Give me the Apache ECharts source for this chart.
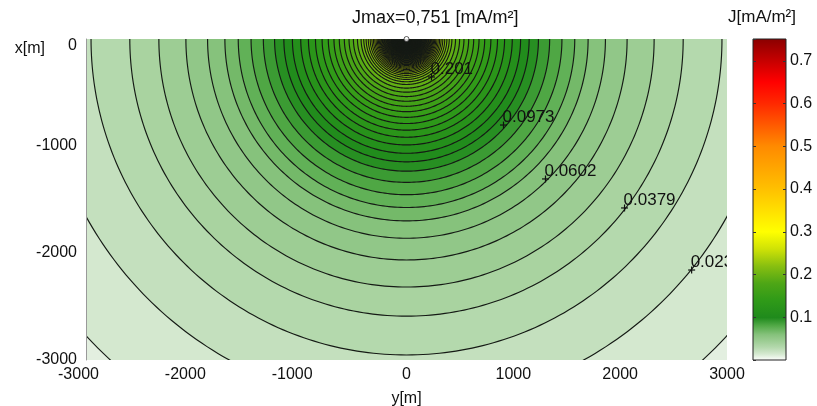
<!DOCTYPE html>
<html><head><meta charset="utf-8">
<script src="https://cdn.jsdelivr.net/npm/echarts@6/dist/echarts.min.js"></script>
<style>html,body{margin:0;padding:0;background:#fff}#c{width:817px;height:406px}</style>
</head><body><div id="c"></div>
<script>
// contour levels J [mA/m^2]
const levels = [0.0156,0.0230,0.0304,0.0378,0.0453,0.0527,0.0601,0.0675,0.0749,0.0824,
0.0898,0.0972,0.1046,0.1121,0.1195,0.1269,0.1343,0.1417,0.1491,0.1566,
0.1640,0.1714,0.1788,0.1862,0.1937,0.2011,0.2085,0.2159,0.2233,0.2308,
0.2382,0.2456,0.2530,0.2604,0.2679,0.2753,0.2827,0.2901,0.2975,0.3050,
0.3124,0.3198,0.3272,0.3346,0.3421,0.3495,0.3569,0.3643,0.3717,0.3792,
0.3866,0.3940,0.4014,0.4088,0.4163,0.4237,0.4311,0.4385,0.4459,0.4534,
0.4608,0.4682,0.4756,0.4830,0.4905,0.4979,0.5053,0.5127,0.5201,0.5276,
0.5350,0.5424,0.5498,0.5572,0.5647,0.5721,0.5795,0.5869,0.5943,0.6018,
0.6092,0.6166,0.6240,0.6314,0.6389,0.6463,0.6537,0.6611,0.6685,0.6760,
0.6834,0.6908,0.6982,0.7056,0.7131,0.7205,0.7279,0.7353,0.7427,0.7502];
// radius [m] of each contour around the source at (0,0)
const radii = [4085,3428,2953,2590,2318,2065,1862,1700,1575,1455,
1340,1235,1148,1068,990,918,852,790,732,679,
629,582,538,497,459,425,400,378,358,340,
324,310,297,285,274,264,255,247,240,233,
226,219,213,207,201,195,189,183,178,173,
168,163,158,153,148,144,140,136,132,128,
124,120,116,112,108,104,100,96,92,88,
84,80,76,72,68,64,60,56,52,48,
45,42,39,36,33,30,27,24,21,19,
17,15,13,11,9,8,7,6,5,4];
// contour labels
const labelText = ['0.201','0.0973','0.0602','0.0379','0.023'];
const labelYm = [234, 908, 1301, 2041, 2669];     // horizontal axis y[m]
const labelXm = [-355, -804, -1308, -1579, -2159]; // vertical axis x[m]
const jMax = 0.751;
const horizTicks = [-3000, 3000, 1000];
const vertTicks = [-3000, 0, 1000];
const cbarTicks = [0, 0.751, 0.1];
// colormap
const cmapValues = [0, 0.015, 0.023, 0.030, 0.045, 0.060, 0.080, 0.10, 0.14, 0.18, 0.22, 0.26, 0.30, 0.40, 0.50, 0.60, 0.65, 0.751];
const cmapColors = ['#ffffff','#d5e9d0','#c4e0be','#b5d9ae','#9dcd94','#86c27c','#55ab4a','#1f8a1c','#2f9a18','#4ea616','#88bf10','#cfe206','#ffff00','#ffc000','#ff8a00','#ff2800','#ff0000','#8a0000'];

function hex(c){return [parseInt(c.substr(1,2),16),parseInt(c.substr(3,2),16),parseInt(c.substr(5,2),16)];}
function colorAt(v){
  if (v <= cmapValues[0]) return cmapColors[0];
  for (let i=1;i<cmapValues.length;i++){
    if (v <= cmapValues[i]){
      const t=(v-cmapValues[i-1])/(cmapValues[i]-cmapValues[i-1]);
      const a=hex(cmapColors[i-1]), b=hex(cmapColors[i]);
      return 'rgb('+a.map((x,k)=>Math.round(x+(b[k]-x)*t)).join(',')+')';
    }
  }
  return cmapColors[cmapColors.length-1];
}

const FONT = "'Liberation Sans', Arial, Helvetica, sans-serif";
const chart = echarts.init(document.getElementById('c'), null, {renderer:'canvas'});

const ringData = levels.map((v,i)=>[v, radii[i]]);
const labelData = labelText.map((t,i)=>[labelYm[i], labelXm[i], t]);

function ringPoints(api, r){
  const pts = [];
  for (let a=0; a<=360; a+=1){
    const t = a*Math.PI/180;
    pts.push(api.coord([r*Math.sin(t), r*Math.cos(t)]));
  }
  return pts;
}

const option = {
  animation:false,
  backgroundColor:'#ffffff',
  textStyle:{fontFamily:FONT},
  title:[
    {text:'Jmax=0,751 [mA/m\u00b2]', left:352, top:9, padding:0,
     textStyle:{fontSize:18, fontWeight:'normal', color:'#111', fontFamily:FONT}},
    {text:'J[mA/m\u00b2]', left:728, top:9, padding:0,
     textStyle:{fontSize:17, fontWeight:'normal', color:'#111', fontFamily:FONT}}
  ],
  grid:[
    {left:86, right:90, top:39, bottom:46, show:true, backgroundColor:'#e3efe0', borderWidth:0, outerBoundsMode:'none', containLabel:false},
    {left:753, width:33, top:39, height:321, outerBoundsMode:'none', containLabel:false}
  ],
  xAxis:[
    {type:'value', gridIndex:0, min:horizTicks[0], max:horizTicks[1], interval:horizTicks[2],
     axisLine:{show:false, onZero:false}, axisTick:{show:false}, splitLine:{show:false},
     name:'y[m]', nameLocation:'middle', nameGap:31,
     nameTextStyle:{fontSize:16, color:'#111', fontFamily:FONT},
     axisLabel:{fontSize:16, color:'#111', margin:7, fontFamily:FONT,
       formatter:v=> v<0 ? '{n|'+v+'}' : ''+v,
       rich:{n:{fontSize:16, color:'#111', fontFamily:FONT, padding:[0,15,0,0]}}}},
    {type:'value', gridIndex:1, min:0, max:1, show:false}
  ],
  yAxis:[
    {type:'value', gridIndex:0, min:vertTicks[0], max:vertTicks[1], interval:vertTicks[2], z:10,
     axisLine:{show:true, onZero:false, lineStyle:{color:'#9a9a9a', width:1}}, axisTick:{show:false}, splitLine:{show:false},
     name:'x[m]', nameLocation:'end', nameGap:-10,
     nameTextStyle:{fontSize:16, color:'#111', fontFamily:FONT, align:'right', verticalAlign:'middle', padding:[0,41,0,0]},
     axisLabel:{fontSize:16, color:'#111', margin:9, fontFamily:FONT,
       formatter:v=> v===0 ? '{t|0}' : ''+v,
       rich:{t:{fontSize:16, color:'#111', fontFamily:FONT, padding:[14,0,0,0]}}}},
    {type:'value', gridIndex:1, position:'right', min:cbarTicks[0], max:cbarTicks[1], interval:cbarTicks[2], z:10,
     axisLine:{show:false, onZero:false}, splitLine:{show:false},
     axisTick:{show:true, inside:true, length:3, lineStyle:{color:'#333'}},
     axisLabel:{fontSize:16, color:'#111', margin:4, showMinLabel:false, showMaxLabel:false, fontFamily:FONT,
       formatter:v=>v.toFixed(1)}},
    {type:'value', gridIndex:1, position:'left', min:cbarTicks[0], max:cbarTicks[1], interval:cbarTicks[2], z:10,
     axisLine:{show:false, onZero:false}, splitLine:{show:false},
     axisTick:{show:true, inside:true, length:3, lineStyle:{color:'#333'}},
     axisLabel:{show:false}}
  ],
  series:[
    {type:'custom', name:'bands', xAxisIndex:0, yAxisIndex:0, clip:true, z:2,
     data:ringData,
     renderItem:function(params, api){
       return {type:'polygon', shape:{points:ringPoints(api, api.value(1))},
         style:{fill:colorAt(api.value(0)), stroke:null, lineWidth:0}};
     }},
    {type:'custom', name:'contours', xAxisIndex:0, yAxisIndex:0, clip:true, z:3,
     data:ringData,
     renderItem:function(params, api){
       return {type:'polyline', shape:{points:ringPoints(api, api.value(1))},
         style:{fill:null, stroke:'#151a15', lineWidth:1.15}};
     }},
    {type:'custom', name:'labels', xAxisIndex:0, yAxisIndex:0, clip:true, z:4,
     data:labelData,
     renderItem:function(params, api){
       const p = api.coord([api.value(0), api.value(1)]);
       const txt = labelText[params.dataIndex];
       const s = 3.5;
       return {type:'group', children:[
         {type:'line', shape:{x1:p[0]-s,y1:p[1],x2:p[0]+s,y2:p[1]}, style:{stroke:'#111', lineWidth:1.2}},
         {type:'line', shape:{x1:p[0],y1:p[1]-s,x2:p[0],y2:p[1]+s}, style:{stroke:'#111', lineWidth:1.2}},
         {type:'text', x:p[0]-1, y:p[1]+1, style:{text:txt, fill:'#111', font:'17px '+FONT, textAlign:'left', textVerticalAlign:'bottom'}}
       ]};
     }},
    {type:'scatter', name:'Jmax', xAxisIndex:0, yAxisIndex:0, clip:false, z:6,
     data:[[0,0]], symbol:'circle', symbolSize:5,
     itemStyle:{color:'#ffffff', borderColor:'#333', borderWidth:1}},
    {type:'custom', name:'colorbar', xAxisIndex:1, yAxisIndex:1, z:2,
     data:[[0, jMax]],
     renderItem:function(params, api){
       const p0 = api.coord([0, 0]);
       const p1 = api.coord([1, jMax]);
       const stops = cmapValues.map((v,i)=>({offset:v/jMax, color:cmapColors[i]}));
       return {type:'rect', shape:{x:p0[0], y:p1[1], width:p1[0]-p0[0], height:p0[1]-p1[1]},
         style:{fill:new echarts.graphic.LinearGradient(0,1,0,0,stops), stroke:'#222', lineWidth:1}};
     }}
  ]
};
chart.setOption(option);
</script>
</body></html>
